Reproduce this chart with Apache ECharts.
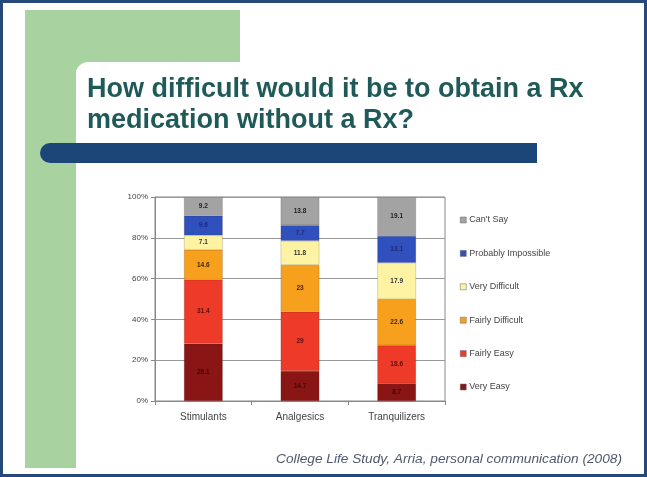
<!DOCTYPE html>
<html><head><meta charset="utf-8">
<script src="https://cdn.jsdelivr.net/npm/echarts@6/dist/echarts.min.js"></script>
<style>html,body{margin:0;padding:0;background:#fff}#c{width:647px;height:477px}</style>
</head><body><div id="c"></div>
<script>
const categories = ['Stimulants', 'Analgesics', 'Tranquilizers'];
const veryEasy = [28.1, 14.7, 8.7];
const fairlyEasy = [31.4, 29, 18.6];
const fairlyDifficult = [14.6, 23, 22.6];
const veryDifficult = [7.1, 11.8, 17.9];
const probablyImpossible = [9.6, 7.7, 13.1];
const cantSay = [9.2, 13.8, 19.1];
const seriesNames = ['Very Easy', 'Fairly Easy', 'Fairly Difficult', 'Very Difficult', 'Probably Impossible', "Can't Say"];
const seriesData = [veryEasy, fairlyEasy, fairlyDifficult, veryDifficult, probablyImpossible, cantSay];
const colors = ['#8a1515', '#ee3a28', '#f7a01e', '#fdf3a2', '#2f50bd', '#a3a3a3'];
const labelColors = ['#3a0a0a', '#5a1010', '#3a2a00', '#333', '#1c2a7a', '#222'];

const chart = echarts.init(document.getElementById('c'));
chart.setOption({
  animation: false,
  textStyle: { fontFamily: 'Liberation Sans, Arial, sans-serif' },
  graphic: [
    { type: 'rect', shape: { x: 1.5, y: 1.5, width: 644, height: 474 }, style: { fill: '#fff', stroke: '#24497a', lineWidth: 3 }, z: -10 },
    { type: 'rect', shape: { x: 25, y: 10, width: 215, height: 60 }, style: { fill: '#a9d2a1' }, z: -9 },
    { type: 'rect', shape: { x: 25, y: 10, width: 51, height: 458 }, style: { fill: '#a9d2a1' }, z: -9 },
    { type: 'rect', shape: { x: 76, y: 62, width: 560, height: 410, r: [12, 0, 0, 0] }, style: { fill: '#fff' }, z: -8 },
    { type: 'rect', shape: { x: 40, y: 143, width: 497, height: 20, r: [10, 0, 0, 10] }, style: { fill: '#1b4677' }, z: -7 },
    { type: 'text', x: 622, y: 459, style: { text: 'College Life Study, Arria, personal communication (2008)', fill: '#4f586e', font: 'italic 13.7px Liberation Sans, Arial, sans-serif', align: 'right', verticalAlign: 'middle' }, z: -6 }
  ],
  title: {
    text: 'How difficult would it be to obtain a Rx\nmedication without a Rx?',
    left: 82, top: 69,
    textStyle: { color: '#1f5a58', fontSize: 27, fontWeight: 'bold', lineHeight: 31, fontFamily: 'Liberation Sans, Arial, sans-serif' }
  },
  color: colors,
  legend: {
    orient: 'vertical', left: 455, top: 210, itemGap: 23.4,
    itemWidth: 6, itemHeight: 6, icon: 'rect',
    data: seriesNames.slice().reverse(),
    textStyle: { fontSize: 9, lineHeight: 10, color: '#444', padding: [0, 0, 0, -2] },
    itemStyle: { borderColor: '#666', borderWidth: 0.5 }
  },
  grid: { left: 155, right: 202, top: 197, bottom: 76, show: true, borderColor: '#888', borderWidth: 1 },
  xAxis: {
    type: 'category', data: categories,
    axisLine: { lineStyle: { color: '#888' } },
    axisTick: { show: true, length: 4, lineStyle: { color: '#888' } },
    axisLabel: { fontSize: 10, color: '#444', margin: 11 }
  },
  yAxis: {
    type: 'value', min: 0, max: 100, interval: 20,
    axisLine: { show: true, lineStyle: { color: '#888' } },
    axisTick: { show: true, length: 4, lineStyle: { color: '#888' } },
    axisLabel: { fontSize: 8, color: '#444', formatter: '{value}%', margin: 7 },
    splitLine: { lineStyle: { color: '#999', width: 1 } }
  },
  series: seriesNames.map((name, i) => ({
    name, type: 'bar', stack: 'total', barWidth: '40%',
    data: seriesData[i],
    itemStyle: { color: colors[i], borderColor: 'rgba(60,30,20,0.35)', borderWidth: 0.5 },
    label: { show: true, position: 'inside', fontSize: 6.5, fontWeight: 'bold', color: labelColors[i] }
  }))
});
</script></body></html>
